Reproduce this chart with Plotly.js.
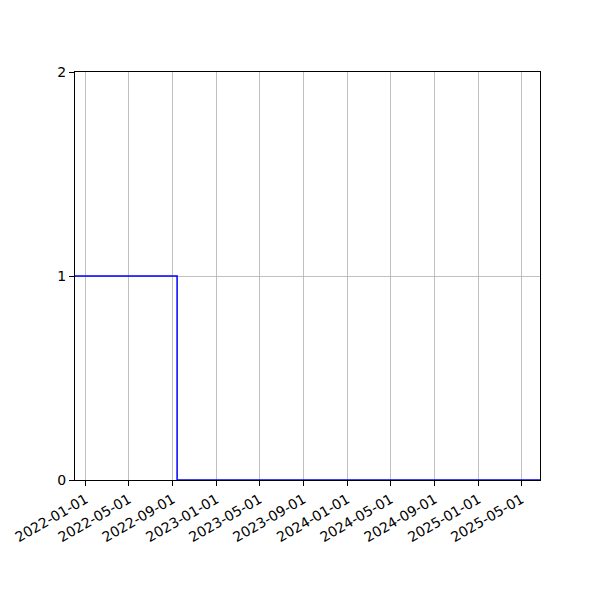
<!DOCTYPE html>
<html>
<head>
<meta charset="utf-8">
<script src="https://cdn.plot.ly/plotly-3.0.1.min.js"></script>
<style>html,body{margin:0;padding:0;background:#fff;}#chart{width:600px;height:600px;}</style>
</head>
<body>
<div id="chart"></div>
<script>
// Step series (value holds until next date)
const dates = ['2021-12-02', '2022-09-13', '2025-06-22'];
const values = [1, 0, 0];

const tickDates = ['2022-01-01','2022-05-01','2022-09-01','2023-01-01','2023-05-01','2023-09-01','2024-01-01','2024-05-01','2024-09-01','2025-01-01','2025-05-01'];
const tickLabels = tickDates.slice();
const yTicks = [0, 1, 2];

const trace = {
  x: dates,
  y: values,
  type: 'scatter',
  mode: 'lines',
  line: {shape: 'hv', color: '#0000ff', width: 1.5},
  cliponaxis: false,
  showlegend: false
};

const layout = {
  width: 600, height: 600,
  margin: {l: 75, r: 60, t: 72, b: 120},
  paper_bgcolor: '#fff', plot_bgcolor: '#fff',
  font: {family: 'DejaVu Sans, sans-serif', size: 14, color: '#000'},
  xaxis: {
    type: 'date',
    range: [dates[0], dates[dates.length - 1]],
    tickmode: 'array', tickvals: tickDates, ticktext: tickLabels,
    tickangle: -30,
    showgrid: true, gridcolor: '#b0b0b0', gridwidth: 0.8,
    showline: true, linecolor: '#000', linewidth: 1, mirror: true,
    ticks: 'outside', ticklen: 5, tickwidth: 1, tickcolor: '#000',
    zeroline: false, layer: 'below traces'
  },
  yaxis: {
    range: [0, 2],
    tickmode: 'array', tickvals: yTicks, ticktext: yTicks.map(String),
    showgrid: true, gridcolor: '#b0b0b0', gridwidth: 0.8,
    showline: true, linecolor: '#000', linewidth: 1, mirror: true,
    ticks: 'outside', ticklen: 5, tickwidth: 1, tickcolor: '#000',
    zeroline: false, layer: 'below traces'
  }
};

Plotly.newPlot('chart', [trace], layout, {staticPlot: true, displayModeBar: false});
</script>
</body>
</html>
